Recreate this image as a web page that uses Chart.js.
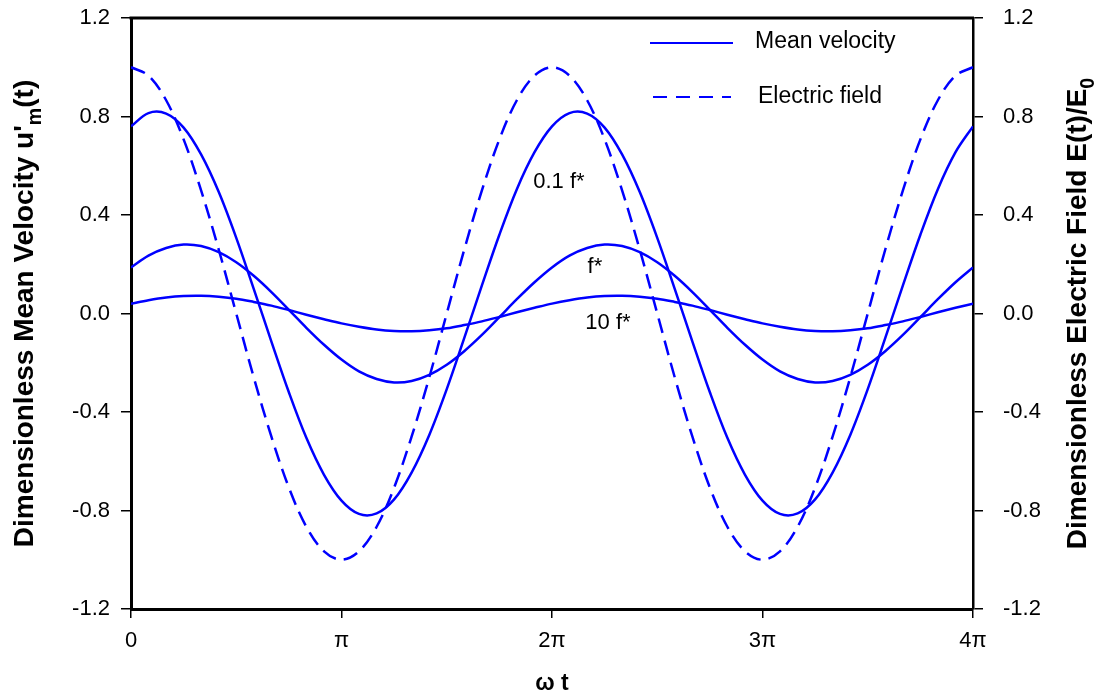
<!DOCTYPE html>
<html>
<head>
<meta charset="utf-8">
<script src="https://cdn.jsdelivr.net/npm/chart.js@4.4.0/dist/chart.umd.min.js"></script>
<style>
  html, body { margin: 0; padding: 0; background: #fff; }
  #wrap { width: 1099px; height: 697px; position: relative; }
</style>
</head>
<body>
<div id="wrap"><canvas id="chart"></canvas></div>
<script>
/* ── Data (omega t in units of pi) ─────────────────────── */

var omegaT = [0, 0.083, 0.167, 0.25, 0.333, 0.417, 0.5, 0.583, 0.667, 0.75, 0.833, 0.917,
              1, 1.083, 1.167, 1.25, 1.333, 1.417, 1.5, 1.583, 1.667, 1.75, 1.833, 1.917,
              2, 2.083, 2.167, 2.25, 2.333, 2.417, 2.5, 2.583, 2.667, 2.75, 2.833, 2.917,
              3, 3.083, 3.167, 3.25, 3.333, 3.417, 3.5, 3.583, 3.667, 3.75, 3.833, 3.917, 4];

var vel01 = [0.76, 0.814, 0.812, 0.755, 0.646, 0.493, 0.307, 0.10, -0.114, -0.32, -0.505, -0.655,
             -0.76, -0.814, -0.812, -0.755, -0.646, -0.493, -0.307, -0.10, 0.114, 0.32, 0.505, 0.655,
             0.76, 0.814, 0.812, 0.755, 0.646, 0.493, 0.307, 0.10, -0.114, -0.32, -0.505, -0.655,
             -0.76, -0.814, -0.812, -0.755, -0.646, -0.493, -0.307, -0.10, 0.114, 0.32, 0.505, 0.655, 0.76];

var vel1 = [0.187, 0.235, 0.266, 0.28, 0.274, 0.249, 0.208, 0.153, 0.087, 0.015, -0.058, -0.127,
            -0.187, -0.235, -0.266, -0.28, -0.274, -0.249, -0.208, -0.153, -0.087, -0.015, 0.058, 0.127,
            0.187, 0.235, 0.266, 0.28, 0.274, 0.249, 0.208, 0.153, 0.087, 0.015, -0.058, -0.127,
            -0.187, -0.235, -0.266, -0.28, -0.274, -0.249, -0.208, -0.153, -0.087, -0.015, 0.058, 0.127, 0.187];

var vel10 = [0.04, 0.054, 0.065, 0.071, 0.072, 0.068, 0.06, 0.047, 0.032, 0.014, -0.005, -0.023,
             -0.04, -0.054, -0.065, -0.071, -0.072, -0.068, -0.06, -0.047, -0.032, -0.014, 0.005, 0.023,
             0.04, 0.054, 0.065, 0.071, 0.072, 0.068, 0.06, 0.047, 0.032, 0.014, -0.005, -0.023,
             -0.04, -0.054, -0.065, -0.071, -0.072, -0.068, -0.06, -0.047, -0.032, -0.014, 0.005, 0.023, 0.04];

var efield = [1, 0.966, 0.866, 0.707, 0.5, 0.259, 0, -0.259, -0.5, -0.707, -0.866, -0.966,
              -1, -0.966, -0.866, -0.707, -0.5, -0.259, 0, 0.259, 0.5, 0.707, 0.866, 0.966,
              1, 0.966, 0.866, 0.707, 0.5, 0.259, 0, -0.259, -0.5, -0.707, -0.866, -0.966,
              -1, -0.966, -0.866, -0.707, -0.5, -0.259, 0, 0.259, 0.5, 0.707, 0.866, 0.966, 1];

var xTickLabels = ['0', '\u03c0', '2\u03c0', '3\u03c0', '4\u03c0'];
var yTicks = [1.2, 0.8, 0.4, 0.0, -0.4, -0.8, -1.2];

var curveLabels = ['0.1 f*', 'f*', '10 f*'];
var curveLabelX = [2.033, 2.204, 2.266];
var curveLabelY = [0.535, 0.19, -0.04];

/* ── Helpers ───────────────────────────────────────────── */

var BLUE = '#0000ff';
var FONT = '"Liberation Sans", Arial, sans-serif';

function pts(ys) {
  return omegaT.map(function (x, i) { return { x: x, y: ys[i] }; });
}

function lineSet(label, ys, dashed, axis) {
  return {
    label: label,
    data: pts(ys),
    yAxisID: axis,
    borderColor: BLUE,
    borderWidth: 2.5,
    borderDash: dashed ? [15, 8] : [],
    pointRadius: 0,
    tension: 0.35,
    fill: false
  };
}

/* Rich text: segments of {t, sub} centred on the origin */
function drawRich(ctx, segs, size) {
  var total = 0;
  segs.forEach(function (s) {
    ctx.font = 'bold ' + (s.sub ? size * 0.7 : size) + 'px ' + FONT;
    total += ctx.measureText(s.t).width;
  });
  var x = -total / 2;
  segs.forEach(function (s) {
    ctx.font = 'bold ' + (s.sub ? size * 0.7 : size) + 'px ' + FONT;
    ctx.fillText(s.t, x, s.sub ? size * 0.3 : 0);
    x += ctx.measureText(s.t).width;
  });
}

function noOverhang(s) {
  s.paddingTop = 0;
  s.paddingBottom = 0;
  s.paddingLeft = 0;
  s.paddingRight = 0;
}

/* ── Extras plugin: frame, titles, legend, curve labels ── */

var extras = {
  id: 'extras',
  afterDraw: function (chart) {
    var ctx = chart.ctx;
    var a = chart.chartArea;
    var xs = chart.scales.x, ys = chart.scales.y;

    ctx.save();
    ctx.strokeStyle = '#000';
    ctx.lineWidth = 3;
    ctx.beginPath();
    ctx.moveTo(a.left - 1.5, a.top);
    ctx.lineTo(a.right + 1, a.top);
    ctx.stroke();

    ctx.fillStyle = '#000';
    ctx.textBaseline = 'alphabetic';
    ctx.textAlign = 'left';

    /* axis titles */
    var midY = (a.top + a.bottom) / 2;
    ctx.save();
    ctx.translate(33, midY);
    ctx.rotate(-Math.PI / 2);
    drawRich(ctx, [{ t: 'Dimensionless Mean Velocity u\'' }, { t: 'm', sub: true }, { t: '(t)' }], 28);
    ctx.restore();

    ctx.save();
    ctx.translate(1086, midY);
    ctx.rotate(-Math.PI / 2);
    drawRich(ctx, [{ t: 'Dimensionless Electric Field E(t)/E' }, { t: '0', sub: true }], 28);
    ctx.restore();

    ctx.save();
    ctx.translate((a.left + a.right) / 2, 690);
    drawRich(ctx, [{ t: '\u03c9 t' }], 23);
    ctx.restore();

    /* legend */
    ctx.strokeStyle = BLUE;
    ctx.lineWidth = 2;
    ctx.beginPath();
    ctx.moveTo(650, 43);
    ctx.lineTo(733, 43);
    ctx.stroke();
    ctx.setLineDash([14, 9]);
    ctx.beginPath();
    ctx.moveTo(653, 97);
    ctx.lineTo(731, 97);
    ctx.stroke();
    ctx.setLineDash([]);
    ctx.font = '23px ' + FONT;
    ctx.textBaseline = 'middle';
    ctx.fillText('Mean velocity', 755, 42);
    ctx.fillText('Electric field', 758, 97);

    /* curve labels */
    ctx.font = '22px ' + FONT;
    ctx.textAlign = 'center';
    curveLabels.forEach(function (t, i) {
      ctx.fillText(t, xs.getPixelForValue(curveLabelX[i]), ys.getPixelForValue(curveLabelY[i]));
    });
    ctx.restore();
  }
};

/* ── Chart ─────────────────────────────────────────────── */

var tickFont = { family: FONT, size: 22 };

new Chart(document.getElementById('chart'), {
  type: 'line',
  data: {
    datasets: [
      lineSet('0.1 f*', vel01, false, 'y'),
      lineSet('f*', vel1, false, 'y'),
      lineSet('10 f*', vel10, false, 'y'),
      lineSet('Electric field', efield, true, 'y2')
    ]
  },
  options: {
    responsive: true,
    maintainAspectRatio: false,
    animation: false,
    layout: { padding: { top: 18, left: 0, right: 0, bottom: 0 } },
    plugins: { legend: { display: false }, tooltip: { enabled: false } },
    scales: {
      x: {
        type: 'linear',
        min: 0,
        max: 4,
        afterFit: function (s) { s.height = 88; noOverhang(s); },
        border: { color: '#000', width: 3 },
        grid: { drawOnChartArea: false, tickLength: 9, color: '#000', lineWidth: 1.5 },
        ticks: {
          stepSize: 1,
          padding: 10,
          color: '#000',
          font: tickFont,
          maxRotation: 0,
          callback: function (v) { return xTickLabels[v]; }
        }
      },
      y: {
        position: 'left',
        min: -1.2,
        max: 1.2,
        afterFit: function (s) { s.width = 131; noOverhang(s); },
        afterBuildTicks: function (s) { s.ticks = yTicks.map(function (v) { return { value: v }; }); },
        border: { color: '#000', width: 3 },
        grid: { drawOnChartArea: false, tickLength: 10, color: '#000', lineWidth: 1.5 },
        ticks: {
          padding: 11,
          color: '#000',
          font: tickFont,
          callback: function (v) { return v.toFixed(1); }
        }
      },
      y2: {
        position: 'right',
        min: -1.2,
        max: 1.2,
        afterFit: function (s) { s.width = 126; noOverhang(s); },
        afterBuildTicks: function (s) { s.ticks = yTicks.map(function (v) { return { value: v }; }); },
        border: { color: '#000', width: 2.5 },
        grid: { drawOnChartArea: false, tickLength: 10, color: '#000', lineWidth: 1.5 },
        ticks: {
          padding: 20,
          color: '#000',
          font: tickFont,
          callback: function (v) { return v.toFixed(1); }
        }
      }
    }
  },
  plugins: [extras]
});
</script>
</body>
</html>
